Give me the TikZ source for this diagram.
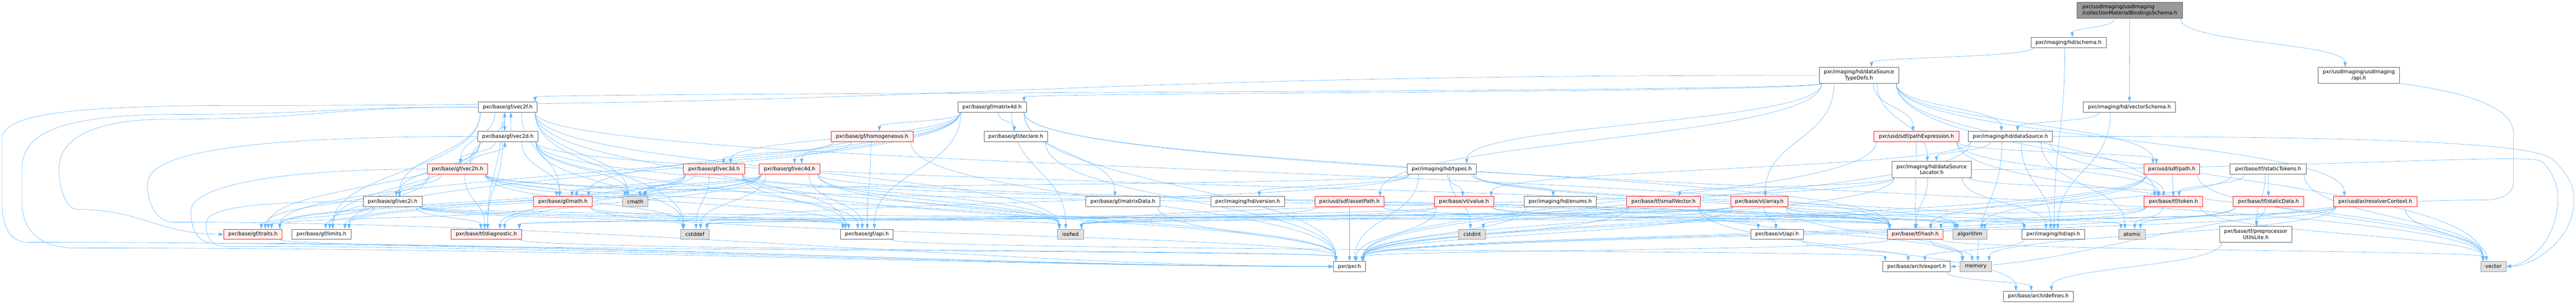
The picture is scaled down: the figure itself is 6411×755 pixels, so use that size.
\documentclass[tikz,border=0pt]{standalone}
\usepackage{fontspec}
\setmainfont{DejaVu Sans}
\usetikzlibrary{arrows.meta,calc,backgrounds}
\definecolor{edgec}{HTML}{63B8FF}
\definecolor{redb}{HTML}{FF2020}
\definecolor{redf}{HTML}{FFF0F0}
\definecolor{grayf}{HTML}{E0E0E0}
\definecolor{grayb}{HTML}{999999}
\definecolor{whiteb}{HTML}{666666}
\definecolor{topf}{HTML}{999999}
\tikzset{
 nd/.style={rectangle, draw, line width=1pt, inner sep=0pt, minimum height=25.5pt, font=\fontsize{12.8}{14.5}\selectfont, align=center},
 wb/.style={nd, fill=white, draw=whiteb},
 rb/.style={nd, fill=redf, draw=redb},
 gb/.style={nd, fill=grayf, draw=grayb},
 tb/.style={nd, fill=topf, draw=whiteb, align=left},
 two/.style={minimum height=40pt},
 edgestyle/.style={draw=edgec, line width=0.8pt, -{Triangle[length=12pt,width=8pt]}}
}
\newcommand\edgedown[3][0]{%
 \draw[edgestyle] let \p1=(#2.south), \p2=(#3.north), \p3=(#2.south east), \p4=(#3.north east),
 \n1={max(min(0.25*(\x2-\x1)+(#1), \x3-\x1-6), \x1-\x3+6)},
 \n2={max(min(0.06*(\x1-\x2)+(#1), \x4-\x2-6), \x2-\x4+6)},
 \n3={0.5*(\y1-\y2)} in
 (\x1+\n1,\y1) .. controls (\x1+\n1,\y1-\n3) and (\x2+\n2,\y2+\n3) .. (\x2+\n2,\y2);}
\newcommand\edgeup[3][0]{%
 \draw[edgestyle] let \p1=(#2.north), \p2=(#3.south), \p3=(#2.north east), \p4=(#3.south east),
 \n1={max(min(0.25*(\x2-\x1)+(#1), \x3-\x1-6), \x1-\x3+6)},
 \n2={max(min(0.06*(\x1-\x2)+(#1), \x4-\x2-6), \x2-\x4+6)},
 \n3={0.5*(\y2-\y1)} in
 (\x1+\n1,\y1) .. controls (\x1+\n1,\y1+\n3) and (\x2+\n2,\y2-\n3) .. (\x2+\n2,\y2);}
\newcommand\edges[2]{\foreach \tgt in {#2} {\edgedown{#1}{\tgt}}}
\begin{document}
\begin{tikzpicture}[x=1pt,y=-1pt]
\useasboundingbox (0,0) rectangle (6411,755);
% nodes
\node[tb, two, minimum width=263pt, minimum height=41pt] (top) at (5300.5,25.5) {pxr/usdImaging/usdImaging\\/collectionMaterialBindingsSchema.h};
\node[wb, minimum width=187pt] (schema) at (5148,105.5) {pxr/imaging/hd/schema.h};
\node[wb, two, minimum width=203pt] (usdapi) at (5870.5,187) {pxr/usdImaging/usdImaging\\/api.h};
\node[wb, two, minimum width=197pt] (dstd) at (4626.5,187) {pxr/imaging/hd/dataSource\\TypeDefs.h};
\node[wb, minimum width=147pt] (vec2f) at (1263.5,266) {pxr/base/gf/vec2f.h};
\node[wb, minimum width=170pt] (matrix4d) at (2469,266) {pxr/base/gf/matrix4d.h};
\node[wb, minimum width=229pt] (vecschema) at (5299.5,266) {pxr/imaging/hd/vectorSchema.h};
\node[wb, minimum width=150pt] (vec2d) at (1264,339) {pxr/base/gf/vec2d.h};
\node[rb, minimum width=203pt] (homog) at (2170.5,339) {pxr/base/gf/homogeneous.h};
\node[wb, minimum width=158pt] (declare) at (2528,339) {pxr/base/gf/declare.h};
\node[rb, minimum width=211pt] (pathexpr) at (4769.5,339) {pxr/usd/sdf/pathExpression.h};
\node[wb, minimum width=209pt] (datasource) at (5003.5,339) {pxr/imaging/hd/dataSource.h};
\node[rb, minimum width=151pt] (vec2h) at (1138.5,420) {pxr/base/gf/vec2h.h};
\node[rb, minimum width=152pt] (vec3d) at (1777,420) {pxr/base/gf/vec3d.h};
\node[rb, minimum width=152pt] (vec4d) at (1965,420) {pxr/base/gf/vec4d.h};
\node[wb, minimum width=172pt] (types) at (3588,420) {pxr/imaging/hd/types.h};
\node[wb, two, minimum width=197pt] (dsl) at (4807.5,421) {pxr/imaging/hd/dataSource\\Locator.h};
\node[rb, minimum width=138pt] (path) at (5405,420) {pxr/usd/sdf/path.h};
\node[wb, minimum width=190pt] (stokens) at (5645,420) {pxr/base/tf/staticTokens.h};
\node[wb, minimum width=146pt] (vec2i) at (977,501) {pxr/base/gf/vec2i.h};
\node[rb, minimum width=146pt] (math) at (1401,501) {pxr/base/gf/math.h};
\node[gb, minimum width=62pt] (cmath) at (1581,501) {cmath};
\node[wb, minimum width=185pt] (mdata) at (2794.5,501) {pxr/base/gf/matrixData.h};
\node[wb, minimum width=184pt] (version) at (3105,501) {pxr/imaging/hd/version.h};
\node[rb, minimum width=173pt] (asset) at (3358.5,501) {pxr/usd/sdf/assetPath.h};
\node[rb, minimum width=147pt] (value) at (3643.5,501) {pxr/base/vt/value.h};
\node[wb, minimum width=180pt] (enums) at (3883,501) {pxr/imaging/hd/enums.h};
\node[rb, minimum width=184pt] (smallvec) at (4140,501) {pxr/base/tf/smallVector.h};
\node[rb, minimum width=143pt] (array) at (4378.5,501) {pxr/base/vt/array.h};
\node[rb, minimum width=146pt] (token) at (5409,501) {pxr/base/tf/token.h};
\node[rb, minimum width=175pt] (sdata) at (5645.5,501) {pxr/base/tf/staticData.h};
\node[rb, minimum width=207pt] (resctx) at (5911.5,501) {pxr/usd/ar/resolverContext.h};
\node[rb, minimum width=145pt] (traits) at (629.5,582) {pxr/base/gf/traits.h};
\node[wb, minimum width=148pt] (limits) at (800,582) {pxr/base/gf/limits.h};
\node[rb, minimum width=175pt] (diag) at (1210.5,582) {pxr/base/tf/diagnostic.h};
\node[gb, minimum width=71pt] (cstddef) at (1729.5,582) {cstddef};
\node[wb, minimum width=131pt] (gfapi) at (2157.5,582) {pxr/base/gf/api.h};
\node[gb, minimum width=66pt] (iosfwd) at (2664,582) {iosfwd};
\node[gb, minimum width=66pt] (cstdint) at (3664,582) {cstdint};
\node[wb, minimum width=131pt] (vtapi) at (4422.5,582) {pxr/base/vt/api.h};
\node[rb, minimum width=139pt] (hash) at (4766.5,582) {pxr/base/tf/hash.h};
\node[gb, minimum width=85pt] (algo) at (4902.5,582) {algorithm};
\node[wb, minimum width=156pt] (hdapi) at (5110,582) {pxr/imaging/hd/api.h};
\node[gb, minimum width=67pt] (atomic) at (5306.5,582) {atomic};
\node[wb, two, minimum width=180pt] (preproc) at (5614,582) {pxr/base/tf/preprocessor\\UtilsLite.h};
\node[wb, minimum width=79pt] (pxr) at (3358.5,662) {pxr/pxr.h};
\node[wb, minimum width=168pt] (export) at (4770,662) {pxr/base/arch/export.h};
\node[gb, minimum width=78pt] (memory) at (4917,662) {memory};
\node[gb, minimum width=63pt] (vector) at (6205.5,662) {vector};
\node[wb, minimum width=174pt] (defines) at (5073,736) {pxr/base/arch/defines.h};
% edges
\begin{pgfonlayer}{background}
\edges{top}{schema,vecschema,usdapi}
\edges{schema}{dstd,hdapi}
\edges{vecschema}{datasource,hdapi}
\edges{dstd}{vec2f,matrix4d,pathexpr,datasource,types,dsl,asset,path,token,array,resctx,vector}
\edgedown[-8]{vec2f}{vec2d}
\edgeup[8]{vec2d}{vec2f}
\edges{vec2f}{vec2h,vec2i,diag,gfapi,limits,math,hash,cstddef,cmath,iosfwd}
\edges{vec2d}{vec2h,vec2i,diag,gfapi,limits,traits,math,hash,cstddef,cmath,iosfwd}
\edgeup{vec2h}{vec2d}
\edgeup{vec2h}{vec2f}
\edges{vec2h}{vec2i,diag,gfapi,limits,traits,math,hash,cstddef,cmath,iosfwd}
\edges{vec2i}{diag,gfapi,limits,traits,hash,cstddef,iosfwd}
\edges{vec3d}{diag,gfapi,limits,traits,math,hash,cstddef,cmath,iosfwd,pxr}
\edges{vec4d}{diag,gfapi,limits,traits,math,hash,cstddef,cmath,iosfwd,pxr}
\edges{matrix4d}{declare,mdata,vec3d,vec4d,homog,limits,math,traits,gfapi,hash,iosfwd,vector,pxr}
\edges{homog}{vec3d,vec4d,gfapi,pxr}
\edges{declare}{pxr}
\edges{mdata}{pxr}
\edges{math}{traits,gfapi,pxr}
\edges{traits}{pxr}
\edges{diag}{pxr}
\edges{gfapi}{export}
\edges{types}{version,value,enums,cstdint,hdapi,algo,cmath,cstddef,pxr}
\edges{enums}{pxr,hdapi}
\edges{asset}{pxr,hash,iosfwd}
\edges{value}{pxr,vtapi,diag,hash,iosfwd}
\edges{smallvec}{defines,cstdint,cstddef,memory,algo,pxr}
\edges{array}{vtapi,pxr,diag,memory,algo,cstddef,iosfwd,atomic}
\edges{token}{atomic,pxr,hash,vector,iosfwd}
\edges{sdata}{preproc,atomic,pxr}
\edges{stokens}{token,sdata,preproc,vector,pxr}
\edges{resctx}{pxr,hash,algo,memory,vector}
\edges{path}{token,hash,algo,vector,pxr}
\edges{pathexpr}{path,hash,vector,pxr,token}
\edges{datasource}{dsl,hdapi,value,token,memory,atomic,pxr}
\edges{dsl}{hdapi,hash,smallvec,token,iosfwd,pxr}
\edges{hash}{memory,vector,pxr}
\edges{vtapi}{export}
\edges{hdapi}{export}
\edges{export}{defines}
\edges{preproc}{defines}
% edges routed round the left margin
\draw[edgestyle] (dstd.west) .. controls (2500,187) and (2500,262) .. (600,262) .. controls (200,262) and (5,280) .. (5,345) -- (5,505) .. controls (5,570) and (30,602) .. (70,602) .. controls (1500,602) and (2500,662) .. (pxr.west);
\draw[edgestyle] (vec2f.west) .. controls (800,266) and (800,284) .. (450,284) .. controls (150,284) and (55,330) .. (55,419) -- (55,505) .. controls (55,580) and (110,616) .. (185,616) .. controls (1500,616) and (2500,662) .. (pxr.west);
\draw[edgestyle] (vec2f.west) .. controls (800,266) and (800,296) .. (420,296) .. controls (220,296) and (147,350) .. (147,419) .. controls (147,480) and (170,520) .. (191,520) .. controls (350,520) and (400,582) .. (traits.west);
\draw[edgestyle] (vec2d.west) .. controls (600,339) and (367,380) .. (367,457) .. controls (367,520) and (400,552) .. (430,552) .. controls (1500,552) and (2500,662) .. (pxr.west);
\draw[edgestyle] (vec2h.west) .. controls (700,420) and (475,460) .. (475,525) .. controls (475,580) and (500,604) .. (530,604) .. controls (1500,604) and (2500,662) .. (pxr.west);
\draw[edgestyle] (vec2i.west) .. controls (600,501) and (513,520) .. (513,556) .. controls (513,595) and (530,612) .. (560,612) .. controls (1500,612) and (2500,662) .. (pxr.west);
% edges routed round the right margin
\draw[edgestyle] (usdapi.south east) .. controls (6150,230) and (6255,270) .. (6255,330) -- (6255,452) .. controls (6255,480) and (6230,497) .. (6180,497) .. controls (5500,497) and (5200,662) .. (export.east);
\draw[edgestyle] (datasource.east) .. controls (5800,339) and (6300,350) .. (6351,395) .. controls (6390,430) and (6406,460) .. (6406,496) .. controls (6406,600) and (6300,662) .. (vector.east);
\draw[edgestyle] (dsl.east) .. controls (5700,421) and (6280,380) .. (6324,400) .. controls (6350,420) and (6366,460) .. (6366,491) .. controls (6366,590) and (6300,655) .. (vector.east);
\end{pgfonlayer}
\end{tikzpicture}
\end{document}
